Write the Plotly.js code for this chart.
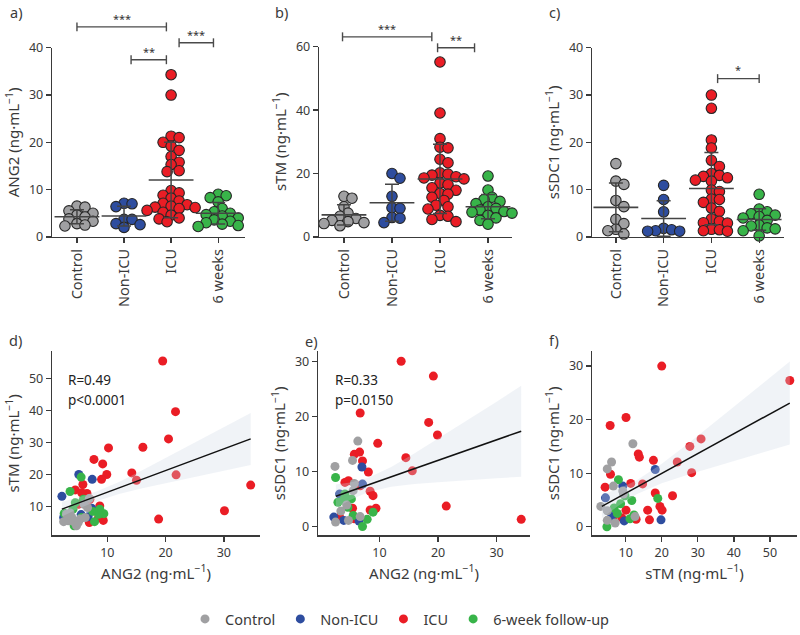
<!DOCTYPE html>
<html>
<head>
<meta charset="utf-8">
<script src="https://cdn.plot.ly/plotly-3.0.1.min.js"></script>
<style>html,body{margin:0;padding:0;background:#fff}#chart{width:800px;height:635px}</style>
</head>
<body>
<div id="chart"></div>
<script>
// ---------- categories & styling names ----------
const categories = ['Control', 'Non-ICU', 'ICU', '6 weeks'];
const groupNames = ['Control', 'Non-ICU', 'ICU', '6-week follow-up'];
const groupColors = ['#a0a0a2', '#2e4d9f', '#ea1d25', '#38b449'];

// ---------- panel a: ANG2 (ng/mL) ----------
const ang2Control = [6.5, 6.3, 5.5, 5.0, 4.6, 4.2, 3.8, 3.3, 2.8, 2.5, 2.3];
const ang2NonICU = [7.1, 7.0, 6.4, 3.7, 3.7, 2.6, 2.8, 2.0];
const ang2ICU = [34.3, 30.0, 21.3, 21.0, 20.0, 19.2, 18.3, 17.0, 15.8, 15.3, 14.0, 13.8, 9.8, 9.3, 8.8, 8.2, 7.6, 7.1, 6.8, 6.5, 6.3, 6.2, 6.0, 5.6, 5.2, 4.6, 4.0, 3.8, 3.2];
const ang2Week6 = [9.0, 8.7, 8.3, 7.4, 6.0, 5.3, 5.0, 4.7, 4.4, 4.0, 3.6, 3.3, 3.0, 2.7, 2.4, 2.2];

// ---------- panel b: sTM (ng/mL) ----------
const stmControl = [12.8, 12.2, 9.5, 7.5, 6.5, 5.8, 5.2, 4.8, 4.5, 4.2, 3.5];
const stmNonICU = [20.0, 18.5, 12.8, 9.2, 9.0, 6.1, 5.9, 4.5];
const stmICU = [55.2, 39.1, 31.0, 28.3, 28.1, 24.5, 23.4, 20.2, 19.8, 19.5, 19.0, 18.6, 18.3, 17.0, 16.5, 15.5, 14.7, 13.7, 13.5, 12.5, 11.5, 10.0, 9.5, 8.8, 6.8, 6.5, 5.5, 4.8];
const stmWeek6 = [19.2, 14.8, 12.5, 11.8, 11.2, 10.5, 9.5, 9.0, 8.5, 8.0, 7.8, 7.5, 6.8, 6.0, 5.2, 4.0];

// ---------- panel c: sSDC1 (ng/mL) ----------
const sdc1Control = [15.5, 11.8, 11.1, 7.7, 6.4, 3.7, 2.8, 1.6, 1.3, 0.6];
const sdc1NonICU = [10.9, 7.9, 5.3, 1.8, 1.5, 1.3, 1.2, 1.2];
const sdc1ICU = [30.0, 27.2, 20.5, 18.8, 16.2, 14.9, 13.4, 13.0, 12.8, 12.5, 12.0, 11.8, 9.9, 9.6, 8.0, 7.9, 7.3, 6.1, 5.4, 3.8, 3.3, 3.0, 2.9, 1.6, 1.5, 1.3, 1.2];
const sdc1Week6 = [9.0, 5.9, 5.3, 4.9, 4.6, 4.3, 4.0, 3.5, 2.5, 2.3, 1.9, 1.7, 1.3, 0.2];

// ---------- panel d: ANG2 (x) vs sTM (y) ----------
const dICUx = [19.5, 21.7, 20.5, 16.1, 10.2, 7.7, 9.2, 9.9, 14.2, 15.0, 21.8, 34.6, 30.1, 18.8, 9.0, 5.8, 4.5, 6.5, 7.0, 8.7, 8.5, 6.9, 5.9, 5.0, 5.6, 9.3];
const dICUy = [55.4, 39.6, 31.1, 28.5, 28.3, 24.7, 23.3, 20.0, 20.5, 18.2, 19.9, 16.7, 8.7, 6.1, 18.5, 16.9, 15.2, 14.1, 12.3, 10.2, 6.6, 5.0, 11.8, 10.7, 14.3, 5.7];
const dNonICUx = [2.2, 5.1, 7.4, 7.3, 6.7, 2.5, 4.0, 5.5];
const dNonICUy = [13.2, 20.0, 18.5, 9.5, 6.8, 6.6, 5.5, 7.5];
const dWeek6x = [3.6, 5.5, 4.5, 5.9, 2.6, 4.3, 7.8, 8.7, 9.4, 8.5, 5.6, 4.1, 3.3, 7.5];
const dWeek6y = [14.7, 19.2, 11.2, 12.3, 7.9, 4.0, 5.3, 9.2, 7.8, 7.6, 6.6, 9.2, 6.1, 8.5];
const dControlx = [3.0, 3.3, 3.9, 4.7, 5.3, 6.2, 6.6, 6.9, 6.0, 4.2, 2.5, 5.0, 3.6];
const dControly = [7.6, 5.6, 6.6, 4.0, 6.1, 6.6, 9.7, 12.5, 10.7, 5.3, 5.3, 5.0, 8.0];
const dFitX = [2.2, 34.6];
const dFitY = [9.2, 31.1];
const dBandX = [2.2, 5, 8, 12, 16, 20, 25, 30, 34.6];
const dBandLo = [6.9, 9.35, 11.6, 13.9, 15.7, 17.3, 19.3, 21.2, 23.0];
const dBandHi = [11.5, 12.85, 14.6, 17.7, 21.3, 25.1, 29.9, 34.8, 39.2];

// ---------- panel e: ANG2 (x) vs sSDC1 (y) ----------
const eICUx = [13.7, 19.2, 18.4, 19.9, 6.7, 9.7, 14.5, 15.6, 21.4, 34.2, 5.7, 6.6, 7.1, 8.1, 8.4, 8.9, 9.4, 8.4, 5.4, 6.7, 4.1, 4.7, 3.2, 5.7];
const eICUy = [30.0, 27.3, 18.9, 16.6, 20.6, 15.1, 12.5, 10.1, 3.7, 1.3, 13.1, 13.5, 11.9, 9.9, 6.4, 5.6, 3.3, 3.0, 3.3, 7.4, 8.0, 8.3, 1.7, 1.4];
const eNonICUx = [7.0, 7.1, 3.2, 2.2, 3.9, 6.5];
const eNonICUy = [10.8, 7.7, 5.9, 1.7, 1.1, 1.0];
const eWeek6x = [2.5, 2.9, 4.1, 5.2, 3.8, 5.5, 7.9, 8.9, 7.1, 4.6];
const eWeek6y = [8.9, 4.4, 5.9, 5.0, 4.8, 2.0, 1.3, 2.6, 0.0, 3.5];
const eControlx = [6.3, 5.4, 2.4, 5.7, 4.4, 3.4, 2.5, 4.7, 6.7, 5.5];
const eControly = [15.5, 12.0, 10.9, 7.8, 3.9, 2.8, 0.8, 1.1, 1.8, 6.5];
const eFitX = [2.55, 34.2];
const eFitY = [5.5, 17.3];
const eBandX = [2.55, 5, 8, 12, 16, 20, 25, 30, 34.2];
const eBandLo = [3.4, 4.8, 6.2, 7.2, 7.7, 8.05, 8.45, 8.75, 9.05];
const eBandHi = [7.6, 8.0, 8.8, 10.8, 13.3, 15.95, 19.35, 22.65, 25.55];

// ---------- panel f: sTM (x) vs sSDC1 (y) ----------
const fICUx = [20.0, 55.5, 10.1, 5.7, 30.9, 27.8, 24.3, 28.3, 17.7, 13.5, 13.8, 5.8, 4.3, 11.4, 14.7, 18.2, 23.0, 19.5, 20.1, 16.1, 10.1, 16.6, 12.9, 8.9, 6.4];
const fICUy = [30.0, 27.3, 20.4, 18.9, 16.4, 15.0, 12.1, 10.1, 12.4, 13.6, 13.0, 9.8, 7.4, 8.1, 8.0, 6.3, 5.8, 3.8, 3.1, 3.1, 3.1, 1.3, 1.4, 1.7, 1.7];
const fNonICUx = [18.2, 9.2, 4.4, 19.8, 9.6, 6.1];
const fNonICUy = [10.7, 7.6, 5.4, 1.3, 1.1, 1.9];
const fWeek6x = [8.0, 11.7, 18.9, 8.6, 6.8, 7.7, 12.3, 11.2, 4.8, 9.8];
const fWeek6y = [8.8, 4.9, 5.3, 4.3, 3.5, 2.5, 2.2, 1.5, 0.0, 5.8];
const fControlx = [12.0, 6.1, 4.9, 6.6, 9.2, 3.1, 4.9, 4.9, 7.1, 12.6, 9.4];
const fControly = [15.5, 12.1, 10.8, 7.6, 6.7, 3.8, 3.0, 1.2, 0.7, 1.9, 6.1];
const fFitX = [3.4, 55.5];
const fFitY = [3.8, 23.1];
const fBandX = [3.4, 8, 13, 20, 27, 34, 41, 48, 55.5];
const fBandLo = [1.64, 3.92, 6.05, 8.13, 9.66, 11.1, 12.5, 13.87, 15.35];
const fBandHi = [5.96, 7.08, 8.65, 11.75, 15.34, 19.1, 22.9, 26.73, 30.85];

// ---------- annotation texts ----------
const statsD = ['R=0.49', 'p<0.0001'];
const statsE = ['R=0.33', 'p=0.0150'];
const unit = ' (ng·mL<sup>−1</sup>)';

// ================= helpers =================
const W = 800, H = 635;
const px = v => v / W;
const py = v => 1 - v / H;
const FONT = '"Noto Sans", "Open Sans", sans-serif';
const INK = '#3a3a3a';

function mean(a) { return a.reduce((s, v) => s + v, 0) / a.length; }
function sd(a) { const m = mean(a); return Math.sqrt(a.reduce((s, v) => s + (v - m) * (v - m), 0) / (a.length - 1)); }

// simple beeswarm: horizontal offsets (in category units) so dots overlap only partly
function swarm(vals, pxPerUnit, pxPerCat) {
  const idx = vals.map((v, i) => i).sort((a, b) => vals[b] - vals[a]);
  const placed = [];
  const off = new Array(vals.length).fill(0);
  const step = 4, dmin = 7.5;
  idx.forEach(i => {
    const y = vals[i] * pxPerUnit;
    for (let k = 0; k < 40; k++) {
      const s = (k % 2 === 1 ? 1 : -1) * Math.ceil(k / 2) * step;
      const ok = placed.every(p => Math.hypot(p.x - s, p.y - y) >= dmin);
      if (ok || k === 39) { placed.push({x: s, y: y}); off[i] = s / pxPerCat; break; }
    }
  });
  return off;
}

const traces = [];
function dotPanel(groups, xa, ya, pxPerUnit, pxPerCat) {
  groups.forEach((vals, g) => {
    const off = swarm(vals, pxPerUnit, pxPerCat);
    traces.push({
      type: 'scatter', mode: 'markers', xaxis: xa, yaxis: ya,
      x: vals.map((v, i) => g + off[i]), y: vals,
      marker: {size: 10.5, color: groupColors[g], line: {color: '#262626', width: 1.1}},
      cliponaxis: false, showlegend: false, hoverinfo: 'skip'
    });
  });
  traces.push({
    type: 'scatter', mode: 'markers', xaxis: xa, yaxis: ya,
    x: [0, 1, 2, 3], y: groups.map(mean),
    marker: {symbol: 'line-ew', size: 32, color: '#444', line: {color: '#444', width: 1.6}},
    error_y: {type: 'data', array: groups.map(sd), visible: true, color: '#444', thickness: 1.5, width: 7},
    cliponaxis: false, showlegend: false, hoverinfo: 'skip'
  });
}

function scatterPanel(sets, fitX, fitY, bandX, bandLo, bandHi, xa, ya, legend) {
  // draw order: ICU, Non-ICU, 6 weeks, Control (Control on top)
  const order = [2, 1, 3, 0];
  order.forEach(g => {
    traces.push({
      type: 'scatter', mode: 'markers', xaxis: xa, yaxis: ya,
      x: sets[g][0], y: sets[g][1], name: groupNames[g],
      marker: {size: 9, color: groupColors[g]},
      showlegend: legend, legendrank: g + 1, cliponaxis: false, hoverinfo: 'skip'
    });
  });
  traces.push({
    type: 'scatter', mode: 'lines', xaxis: xa, yaxis: ya,
    x: bandX.concat(bandX.slice().reverse()),
    y: bandHi.concat(bandLo.slice().reverse()),
    fill: 'toself', fillcolor: 'rgba(206,215,228,0.3)', line: {width: 0},
    showlegend: false, hoverinfo: 'skip'
  });
  traces.push({
    type: 'scatter', mode: 'lines', xaxis: xa, yaxis: ya,
    x: fitX, y: fitY, line: {color: '#111', width: 1.5},
    showlegend: false, hoverinfo: 'skip'
  });
}

dotPanel([ang2Control, ang2NonICU, ang2ICU, ang2Week6], 'x', 'y', 190 / 40, 47);
dotPanel([stmControl, stmNonICU, stmICU, stmWeek6], 'x2', 'y2', 191 / 60, 48);
dotPanel([sdc1Control, sdc1NonICU, sdc1ICU, sdc1Week6], 'x3', 'y3', 190 / 40, 47.7);

scatterPanel([[dControlx, dControly], [dNonICUx, dNonICUy], [dICUx, dICUy], [dWeek6x, dWeek6y]],
  dFitX, dFitY, dBandX, dBandLo, dBandHi, 'x4', 'y4', true);
scatterPanel([[eControlx, eControly], [eNonICUx, eNonICUy], [eICUx, eICUy], [eWeek6x, eWeek6y]],
  eFitX, eFitY, eBandX, eBandLo, eBandHi, 'x5', 'y5', false);
scatterPanel([[fControlx, fControly], [fNonICUx, fNonICUy], [fICUx, fICUy], [fWeek6x, fWeek6y]],
  fFitX, fFitY, fBandX, fBandLo, fBandHi, 'x6', 'y6', false);

// ================= axes =================
function axBase(extra) {
  return Object.assign({
    showline: true, linecolor: INK, linewidth: 1.3, ticks: 'outside', ticklen: 5,
    tickwidth: 1.3, tickcolor: INK, showgrid: false, zeroline: false,
    tickfont: {family: FONT, size: 12.5, color: INK}, fixedrange: true
  }, extra);
}
function catX(domain, range, anchor) {
  return axBase({domain: domain, range: range, anchor: anchor, tickmode: 'array',
    tickvals: [0, 1, 2, 3], ticktext: categories, tickangle: -90,
    tickfont: {family: FONT, size: 14.5, color: INK}});
}
function aTitle(t, standoff) {
  return {text: t, font: {family: FONT, size: 15, color: INK}, standoff: standoff};
}

const layout = {
  width: W, height: H, margin: {l: 0, r: 0, t: 0, b: 0},
  paper_bgcolor: '#fff', plot_bgcolor: 'rgba(0,0,0,0)',
  font: {family: FONT, color: INK},
  showlegend: true,
  legend: {orientation: 'h', x: 0.5, xanchor: 'center', y: py(622), yanchor: 'middle',
    font: {family: FONT, size: 14.5, color: INK}, itemwidth: 30, tracegroupgap: 0},
  xaxis: catX([px(52), px(245)], [-0.53, 3.57], 'y'),
  yaxis: axBase({domain: [py(238), py(48)], range: [0, 40], tickvals: [0, 10, 20, 30, 40], anchor: 'x',
    title: aTitle('ANG2' + unit, 5)}),
  xaxis2: catX([px(319), px(512)], [-0.52, 3.5], 'y2'),
  yaxis2: axBase({domain: [py(238), py(47)], range: [0, 60], tickvals: [0, 20, 40, 60], anchor: 'x2',
    title: aTitle('sTM' + unit, 5)}),
  xaxis3: catX([px(592), px(784)], [-0.5, 3.52], 'y3'),
  yaxis3: axBase({domain: [py(238), py(48)], range: [0, 40], tickvals: [0, 10, 20, 30, 40], anchor: 'x3',
    title: aTitle('sSDC1' + unit, 5)}),
  xaxis4: axBase({domain: [px(52), px(260)], range: [0.5, 36.2], tickvals: [10, 20, 30], anchor: 'y4',
    title: aTitle('ANG2' + unit, 8)}),
  yaxis4: axBase({domain: [py(538), py(353)], range: [1.0, 58.4], tickvals: [10, 20, 30, 40, 50], anchor: 'x4',
    title: aTitle('sTM' + unit, 5)}),
  xaxis5: axBase({domain: [px(318), px(530)], range: [-0.5, 35.7], tickvals: [10, 20, 30], anchor: 'y5',
    title: aTitle('ANG2' + unit, 8)}),
  yaxis5: axBase({domain: [py(538), py(353)], range: [-1.63, 31.8], tickvals: [0, 10, 20, 30], anchor: 'x5',
    title: aTitle('sSDC1' + unit, 5)}),
  xaxis6: axBase({domain: [px(592), px(797)], range: [0.67, 57.5], tickvals: [10, 20, 30, 40, 50], anchor: 'y6',
    title: aTitle('sTM' + unit, 8)}),
  yaxis6: axBase({domain: [py(538), py(353)], range: [-1.62, 32.75], tickvals: [0, 10, 20, 30], anchor: 'x6',
    title: aTitle('sSDC1' + unit, 5)}),
  shapes: [], annotations: []
};

// significance brackets: [xaxis, x0, x1, bracket pixel y, label, label pixel y]
const brackets = [
  ['x', 0.0, 1.9, 27, '***', 19],
  ['x', 1.15, 1.9, 60, '**', 52],
  ['x', 2.17, 2.9, 43, '***', 35],
  ['x2', -0.03, 1.83, 37, '***', 29],
  ['x2', 1.95, 2.72, 48, '**', 40],
  ['x3', 2.13, 3.0, 79, '*', 70]
];
brackets.forEach(b => {
  const [xa, x0, x1, yb, lab, yl] = b;
  const line = {color: '#4a4a4a', width: 1.4};
  layout.shapes.push({type: 'line', xref: xa, yref: 'paper', x0: x0, x1: x1, y0: py(yb), y1: py(yb), line: line});
  layout.shapes.push({type: 'line', xref: xa, yref: 'paper', x0: x0, x1: x0, y0: py(yb - 4.5), y1: py(yb + 4.5), line: line});
  layout.shapes.push({type: 'line', xref: xa, yref: 'paper', x0: x1, x1: x1, y0: py(yb - 4.5), y1: py(yb + 4.5), line: line});
  layout.annotations.push({xref: xa, yref: 'paper', x: (x0 + x1) / 2, y: py(yl), text: lab, showarrow: false,
    font: {family: FONT, size: 11, color: '#333'}, xanchor: 'center', yanchor: 'middle'});
});

// panel letters
[['a)', 8, 12], ['b)', 273, 12], ['c)', 547, 12], ['d)', 7, 342], ['e)', 303, 343], ['f)', 547, 342]].forEach(p => {
  layout.annotations.push({xref: 'paper', yref: 'paper', x: px(p[1]), y: py(p[2]), text: p[0], showarrow: false,
    xanchor: 'left', yanchor: 'middle', font: {family: FONT, size: 14.5, color: INK}});
});

// correlation statistics
[[statsD, 66], [statsE, 333]].forEach(s => {
  s[0].forEach((t, i) => {
    layout.annotations.push({xref: 'paper', yref: 'paper', x: px(s[1]), y: py(382 + i * 20), text: t, showarrow: false,
      xanchor: 'left', yanchor: 'middle', font: {family: FONT, size: 13.5, color: '#222'}});
  });
});

Plotly.newPlot('chart', traces, layout, {staticPlot: true, displayModeBar: false});
</script>
</body>
</html>
